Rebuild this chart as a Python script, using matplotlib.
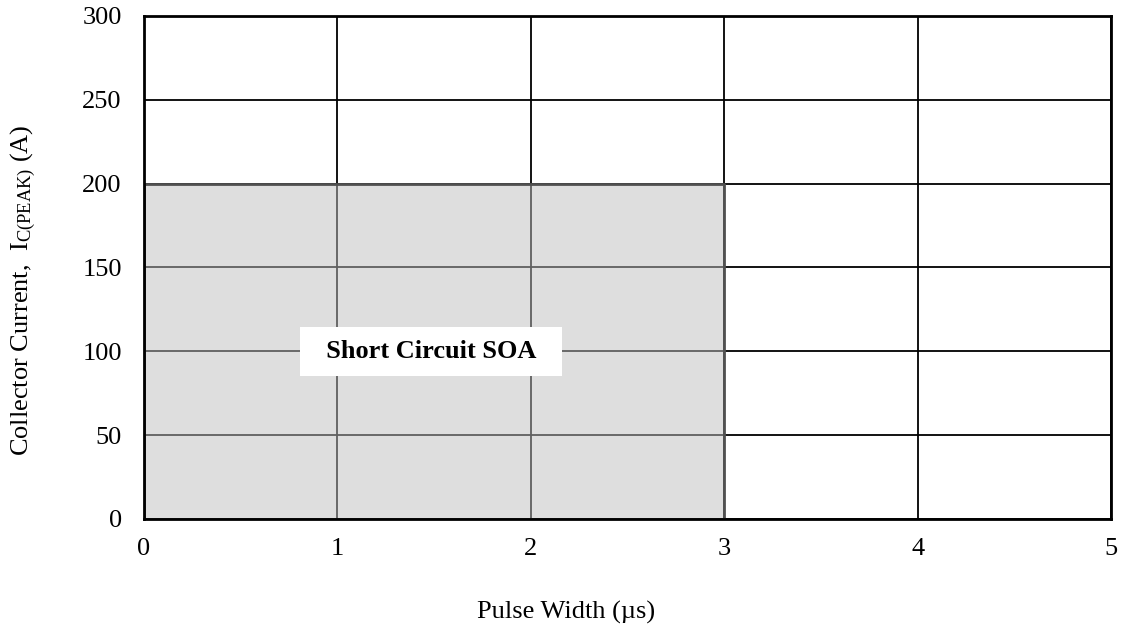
import matplotlib
matplotlib.use("Agg")
import matplotlib.pyplot as plt

# Short circuit safe operating area
soa_width = [0, 3]          # pulse width (us)
soa_current = [200, 200]    # collector current limit (A)
soa_label = "Short Circuit SOA"

x_ticks = [0, 1, 2, 3, 4, 5]
y_ticks = [0, 50, 100, 150, 200, 250, 300]

plt.rcParams['font.family'] = ['Liberation Serif', 'DejaVu Serif']
plt.rcParams['mathtext.fontset'] = 'custom'
plt.rcParams['mathtext.rm'] = 'Liberation Serif'
plt.rcParams['mathtext.it'] = 'Liberation Serif:italic'
plt.rcParams['mathtext.bf'] = 'Liberation Serif:bold'

FS = 19

fig = plt.figure(figsize=(11.24, 6.28), dpi=100)
ax = fig.add_axes([0.1281, 0.1736, 0.8603, 0.801])

ax.set_xlim(x_ticks[0], x_ticks[-1])
ax.set_ylim(y_ticks[0], y_ticks[-1])
ax.set_xticks(x_ticks)
ax.set_yticks(y_ticks)
ax.grid(True, color='black', linewidth=1.3)
ax.set_axisbelow(True)

ax.fill_between(soa_width, 0, soa_current, facecolor=(0.75, 0.75, 0.75, 0.5),
                edgecolor='#505050', linewidth=2, zorder=2)

ax.text(sum(soa_width) / 2 - 0.016, soa_current[0] / 2, "  " + soa_label + "  ",
        fontsize=FS, fontweight='bold', ha='center', va='center', zorder=3,
        bbox=dict(boxstyle='square,pad=0.5', facecolor='white', edgecolor='none'))

for s in ax.spines.values():
    s.set_linewidth(2)
    s.set_zorder(4)

ax.tick_params(axis='both', length=0, labelsize=FS)
ax.tick_params(axis='y', pad=16)
ax.tick_params(axis='x', pad=14)

ax.set_xlabel("Pulse Width (\u00b5s)", fontsize=FS, va='center')
ax.xaxis.set_label_coords(0.437, -0.185)
ax.set_ylabel(r"Collector Current,  I$_{\mathrm{C(PEAK)}}$ (A)", fontsize=FS, va='center')
ax.yaxis.set_label_coords(-0.125, 0.455)

fig.savefig("out.png", dpi=100)
